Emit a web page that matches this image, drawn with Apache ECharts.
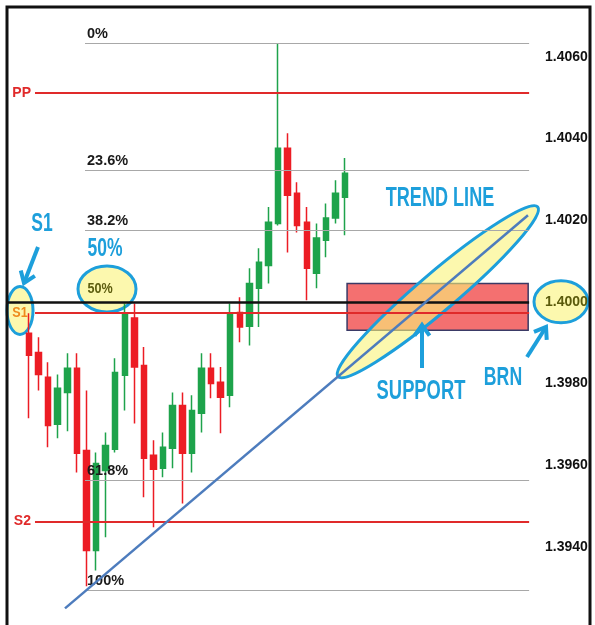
<!DOCTYPE html>
<html>
<head>
<meta charset="utf-8">
<script src="https://cdn.jsdelivr.net/npm/echarts@6/dist/echarts.min.js"></script>
<style>
html,body{margin:0;padding:0;background:#fff;}
#main{width:595px;height:625px;}
</style>
</head>
<body>
<div id="main"></div>
<script>
// candles: [open, close, low, high]
var candles = [
  [1.39923, 1.39869, 1.39715, 1.39972],
  [1.39876, 1.39822, 1.39783, 1.39913],
  [1.39815, 1.39697, 1.39644, 1.39852],
  [1.39700, 1.39788, 1.39666, 1.39822],
  [1.39778, 1.39837, 1.39683, 1.39874],
  [1.39837, 1.39629, 1.39582, 1.39874],
  [1.39636, 1.39391, 1.39303, 1.39783],
  [1.39391, 1.39604, 1.39342, 1.39631],
  [1.39587, 1.39648, 1.39423, 1.39680],
  [1.39639, 1.39827, 1.39631, 1.39862],
  [1.39820, 1.39972, 1.39734, 1.39996],
  [1.39960, 1.39840, 1.39702, 1.39996],
  [1.39844, 1.39617, 1.39521, 1.39889],
  [1.39624, 1.39590, 1.39448, 1.39661],
  [1.39592, 1.39644, 1.39570, 1.39680],
  [1.39641, 1.39746, 1.39592, 1.39778],
  [1.39746, 1.39629, 1.39506, 1.39778],
  [1.39629, 1.39734, 1.39582, 1.39771],
  [1.39727, 1.39837, 1.39680, 1.39874],
  [1.39837, 1.39800, 1.39764, 1.39874],
  [1.39803, 1.39766, 1.39678, 1.39840],
  [1.39771, 1.39972, 1.39742, 1.39996],
  [1.39974, 1.39938, 1.39901, 1.40011],
  [1.39940, 1.40045, 1.39893, 1.40082],
  [1.40033, 1.40097, 1.39938, 1.40131],
  [1.40089, 1.40195, 1.40045, 1.40232],
  [1.40192, 1.40376, 1.40187, 1.40633],
  [1.40376, 1.40261, 1.40121, 1.40413],
  [1.40266, 1.40187, 1.40170, 1.40293],
  [1.40195, 1.40082, 1.40004, 1.40232],
  [1.40070, 1.40156, 1.40033, 1.40192],
  [1.40151, 1.40205, 1.40109, 1.40241],
  [1.40205, 1.40266, 1.40192, 1.40298],
  [1.40256, 1.40315, 1.40163, 1.40352]
];
var leadSlots = 2;     // empty slots before first candle
var slotCount = 55;    // slots across the plot

var fibNames = ['0%', '23.6%', '38.2%', '61.8%', '100%'];
var fibLevels = [1.40633, 1.40322, 1.40175, 1.39563, 1.39293];
var pivotNames = ['PP', 'S1', 'S2'];
var pivotLevels = [1.40511, 1.39974, 1.39462];
var brnLevel = 1.4000;
var supportZone = [1.39930, 1.40045];
var supportSlots = [35.7, 54.6];
var trendLine = [[6.26, 1.39249], [54.58, 1.40212]];
var trendOval = [34.75, 55.6];
var tickLabels = ['1.4060', '1.4040', '1.4020', '1.4000', '1.3980', '1.3960', '1.3940'];

var fibStart = 8.35, pivotStart = 3.13, brnStart = 0.3, lineEnd = 54.7;

var BLUE = '#1d9fdb';
var SANS = "'Liberation Sans', Arial, sans-serif";

var categories = [];
for (var i = 0; i < slotCount; i++) categories.push('k' + i);
var candleData = [];
for (var j = 0; j < leadSlots; j++) candleData.push('-');
candleData = candleData.concat(candles);

var levelLines = [];
fibLevels.forEach(function (v, i) {
  levelLines.push([
    {coord: [fibStart, v], name: fibNames[i],
     lineStyle: {color: '#a8a8a8', width: 1, type: 'solid'},
     label: {show: true, position: 'insideStartTop', formatter: '{b}', color: '#1a1a1a',
       fontSize: 14.5, fontWeight: 'bold', fontFamily: SANS, distance: 2}},
    {coord: [lineEnd, v]}
  ]);
});
pivotLevels.forEach(function (v, i) {
  levelLines.push([
    {coord: [pivotStart, v], name: pivotNames[i],
     lineStyle: {color: '#e02a2a', width: 2, type: 'solid'},
     label: {show: pivotNames[i] !== 'S1', position: 'start', formatter: '{b}', color: '#e02a2a',
       fontSize: 14, fontWeight: 'bold', fontFamily: SANS, distance: 4}},
    {coord: [lineEnd, v]}
  ]);
});
levelLines.push([
  {coord: [brnStart, brnLevel], lineStyle: {color: '#111', width: 2.5, type: 'solid'}, label: {show: false}},
  {coord: [lineEnd, brnLevel]}
]);

var chart = echarts.init(document.getElementById('main'));
chart.setOption({
  animation: false,
  grid: {left: 5, right: 63, top: 16, bottom: 17, outerBoundsMode: 'none'},
  xAxis: [
    {type: 'category', data: categories, show: false, boundaryGap: true},
    {type: 'value', min: 0, max: slotCount, show: false}
  ],
  yAxis: {
    type: 'value', position: 'right', min: 1.3925, max: 1.4070, interval: 0.0005, z: 6,
    axisLine: {show: false}, axisTick: {show: false}, splitLine: {show: false},
    axisLabel: {
      margin: 13, color: '#111', fontSize: 14, fontWeight: 'bold', fontFamily: SANS,
      showMinLabel: false, showMaxLabel: false,
      formatter: function (v) {
        var s = v.toFixed(4);
        if (tickLabels.indexOf(s) < 0) return '';
        return s === '1.4000' ? '{hl|' + s + '}' : s;
      },
      rich: {hl: {color: '#5a5a0c', fontSize: 14, fontWeight: 'bold', fontFamily: SANS}}
    }
  },
  series: [
    {
      type: 'candlestick', xAxisIndex: 0, yAxisIndex: 0, data: candleData, barWidth: 6, z: 2,
      itemStyle: {color: '#1ea34b', color0: '#ec1c24', borderColor: '#1ea34b', borderColor0: '#ec1c24', borderWidth: 1.5}
    },
    {
      type: 'line', xAxisIndex: 1, yAxisIndex: 0, data: [], z: 2, silent: true,
      markArea: {
        silent: true,
        itemStyle: {color: '#f47070', borderColor: '#3a3a66', borderWidth: 1.5},
        data: [[{coord: [supportSlots[0], supportZone[1]]}, {coord: [supportSlots[1], supportZone[0]]}]]
      }
    },
    {
      type: 'line', xAxisIndex: 1, yAxisIndex: 0, data: [], z: 4, silent: true,
      markLine: {silent: true, symbol: ['none', 'none'], animation: false, data: levelLines}
    },
    {
      type: 'line', xAxisIndex: 1, yAxisIndex: 0, data: trendLine, z: 5, silent: true,
      showSymbol: false, lineStyle: {color: '#4d7cbd', width: 2.5}
    }
  ]
});

function px(x, v) { return chart.convertToPixel({xAxisIndex: 1, yAxisIndex: 0}, [x, v]); }
function trendAt(x) {
  var a = trendLine[0], b = trendLine[1];
  return a[1] + (b[1] - a[1]) * (x - a[0]) / (b[0] - a[0]);
}
function oval(cx, cy, rx, ry, rot, z) {
  return {type: 'group', x: cx, y: cy, rotation: rot || 0, z: z, children: [{
    type: 'ellipse', z: z, shape: {cx: 0, cy: 0, rx: rx, ry: ry},
    style: {fill: 'rgba(250,244,120,0.6)', stroke: BLUE, lineWidth: 3}
  }]};
}
// condensed bold callout text
function label(t, x, y, size, color, sx) {
  return {type: 'text', z: 7, x: x, y: y, scaleX: sx || 0.7,
    style: {text: t, x: 0, y: 0, fill: color || BLUE,
      font: 'bold ' + size + 'px ' + SANS, align: 'center', verticalAlign: 'middle'}};
}
function arrow(x1, y1, x2, y2) {
  var a = Math.atan2(y2 - y1, x2 - x1), h = 13, s = 0.62;
  return [
    {type: 'polyline', z: 7, shape: {points: [[x1, y1], [x2, y2]]}, style: {stroke: BLUE, lineWidth: 4}},
    {type: 'polyline', z: 7, shape: {points: [
      [x2 - h * Math.cos(a - s), y2 - h * Math.sin(a - s)], [x2, y2],
      [x2 - h * Math.cos(a + s), y2 - h * Math.sin(a + s)]]},
     style: {stroke: BLUE, lineWidth: 4, lineJoin: 'miter'}}
  ];
}

var p1 = px(trendOval[0], trendAt(trendOval[0]));
var p2 = px(trendOval[1], trendAt(trendOval[1]));
var brnPx = px(slotCount, brnLevel);
var s1Px = px(0, pivotLevels[1]);

var elements = [
  {type: 'rect', z: 8, shape: {x: 7, y: 7, width: 583, height: 640}, style: {fill: 'none', stroke: '#111', lineWidth: 3}},
  oval((p1[0] + p2[0]) / 2, (p1[1] + p2[1]) / 2,
       Math.sqrt(Math.pow(p2[0] - p1[0], 2) + Math.pow(p2[1] - p1[1], 2)) / 2, 19,
       Math.atan2(p1[1] - p2[1], p2[0] - p1[0]), 3),
  oval(brnPx[0] + 29, brnPx[1], 27, 21, 0, 1),
  oval(107, 289, 29, 23, 0, 1),
  oval(20, s1Px[1] - 2, 13, 24, 0, 1),
  label('S1', 20, s1Px[1] + 1, 14, '#ef8a1c', 0.9),
  label('50%', 100, 289, 14, '#5e5e10', 0.9),
  label('S1', 42, 224, 25),
  label('50%', 105, 249, 25),
  label('TREND LINE', 440, 199, 27, BLUE, 0.67),
  label('SUPPORT', 421, 392, 27, BLUE, 0.68),
  label('BRN', 503, 378, 26, BLUE, 0.68)
].concat(arrow(38, 247, 24, 283), arrow(422, 368, 422, 325), arrow(527, 357, 546, 327));

chart.setOption({graphic: {elements: elements}});
</script>
</body>
</html>
